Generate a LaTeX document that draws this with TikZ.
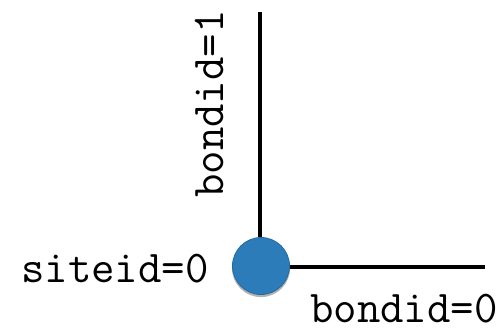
\documentclass[tikz,border=0pt]{standalone}
\usetikzlibrary{shadows}
\definecolor{siteblue}{RGB}{44,124,186}
\definecolor{siteedge}{RGB}{36,106,162}
\begin{document}
\begin{tikzpicture}[x=1pt,y=-1pt,
  bond/.style={line width=4.5pt},
  lbl/.style={font=\fontsize{45.5}{45.5}\ttfamily, inner sep=0pt},
  site/.style={circle, minimum size=57pt, inner sep=0pt, fill=siteblue, draw=siteedge, line width=0.8pt,
    drop shadow={fill=black, opacity=0.3, shadow xshift=0pt, shadow yshift=-2pt, shadow scale=1.02}}]
\useasboundingbox (0,0) rectangle (503,331);
\coordinate (c) at (261,266);
\coordinate (top) at (260,12);
\coordinate (right) at (485,267);
\draw[bond] (top) -- (top |- c);
\draw[bond] (right) -- (right -| c);
\node[site] (site) at (c) {};
\node[lbl, anchor=base west] (s) at (21,282) {siteid=0};
\node[lbl, anchor=base west] (b0) at (310,322) {bondid=0};
\node[lbl, anchor=base west, rotate=90] (b1) at (223,198) {bondid=1};
\end{tikzpicture}
\end{document}
